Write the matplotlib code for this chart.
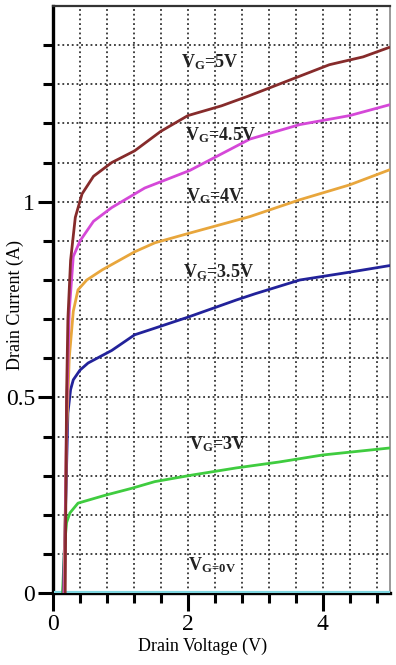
import matplotlib
matplotlib.use("Agg")
import matplotlib.pyplot as plt
import numpy as np

plt.rcParams["font.family"] = ["Liberation Serif", "DejaVu Serif"]
plt.rcParams["mathtext.fontset"] = "custom"
plt.rcParams["mathtext.rm"] = "Liberation Serif"
plt.rcParams["mathtext.bf"] = "Liberation Serif:bold"

# ------------------------
# Data
# ------------------------

v_5 = [0.18, 0.20, 0.22, 0.26, 0.33, 0.43, 0.60, 0.87, 1.21, 1.60, 2.00, 2.50, 2.90, 3.50, 4.10, 4.60, 5.00]
i_5 = [0.0, 0.50, 0.70, 0.85, 0.96, 1.02, 1.065, 1.10, 1.13, 1.18, 1.22, 1.245, 1.27, 1.31, 1.35, 1.37, 1.395]

v_45 = [0.17, 0.20, 0.24, 0.30, 0.40, 0.60, 0.87, 1.36, 2.03, 2.92, 3.66, 4.40, 5.00]
i_45 = [0.0, 0.45, 0.72, 0.86, 0.90, 0.95, 0.985, 1.035, 1.08, 1.16, 1.197, 1.22, 1.248]

v_4 = [0.16, 0.20, 0.24, 0.30, 0.37, 0.50, 0.73, 1.21, 1.51, 2.03, 2.92, 3.66, 4.40, 5.00]
i_4 = [0.0, 0.40, 0.60, 0.72, 0.775, 0.80, 0.826, 0.872, 0.895, 0.92, 0.962, 1.005, 1.043, 1.082]

v_35 = [0.15, 0.19, 0.22, 0.26, 0.30, 0.40, 0.52, 0.87, 1.21, 1.51, 2.00, 2.72, 3.00, 3.66, 4.40, 5.00]
i_35 = [0.0, 0.25, 0.46, 0.52, 0.545, 0.57, 0.588, 0.62, 0.66, 0.677, 0.705, 0.749, 0.765, 0.80, 0.82, 0.837]

v_3 = [0.14, 0.17, 0.20, 0.25, 0.37, 0.77, 1.17, 1.51, 2.07, 2.72, 3.35, 4.00, 4.50, 5.00]
i_3 = [0.0, 0.12, 0.18, 0.205, 0.23, 0.25, 0.268, 0.285, 0.302, 0.32, 0.335, 0.353, 0.362, 0.371]

v_0 = [0.02, 5.0]
i_0 = [0.0, 0.0]

curves = [
    (v_0, i_0, "#7fd6e0"),
    (v_3, i_3, "#3fcc3f"),
    (v_35, i_35, "#22229a"),
    (v_4, i_4, "#e8a63c"),
    (v_45, i_45, "#d548d8"),
    (v_5, i_5, "#862b2b"),
]

label_text = [r"$\mathbf{V_G}$=5V", r"$\mathbf{V_G}$=4.5V", r"$\mathbf{V_G}$=4V",
              r"$\mathbf{V_G}$=3.5V", r"$\mathbf{V_G}$=3V", r"$\mathbf{V_{G\!=\!0V}}$"]
label_x = [2.33, 2.48, 2.40, 2.46, 2.45, 2.36]
label_y = [1.356, 1.171, 1.013, 0.821, 0.381, 0.072]

fig = plt.figure(figsize=(3.96, 6.65), dpi=100)
ax = fig.add_axes([0.134, 0.108, 0.851, 0.883])

for v, i, c in curves:
    lw = 3.0 if c == "#7fd6e0" else 2.0
    ax.plot(v, i, color=c, lw=lw, solid_capstyle="butt", zorder=3)

for t, x, y in zip(label_text, label_x, label_y):
    ax.text(x, y, t, fontsize=13, fontweight="bold", ha="center", va="center",
            color="#222222", zorder=4)

ax.set_xlim(0, 5)
ax.set_ylim(0, 1.5)

# grid every 0.4 V and 0.1 A
for gx in np.arange(0.4, 5.0, 0.4):
    ax.axvline(gx, color="#333333", lw=1.3, ls=(0, (1, 1.6)), zorder=1)
for gy in np.arange(0.1, 1.5, 0.1):
    ax.axhline(gy, color="#333333", lw=1.3, ls=(0, (1, 1.6)), zorder=1)

ax.set_xticks([0, 2, 4])
ax.set_xticks(np.arange(0.4, 5.0, 0.4), minor=True)
ax.set_yticks([0, 0.5, 1])
ax.set_yticklabels(["0", "0.5", "1"])
ax.set_yticks(np.arange(0.1, 1.5, 0.1), minor=True)

ax.tick_params(axis="both", which="major", labelsize=17, width=2.2, direction="out", color="black")
ax.tick_params(axis="x", which="major", length=13, pad=2)
ax.tick_params(axis="y", which="major", length=11, pad=2)
ax.tick_params(axis="both", which="minor", length=7, width=2.2, direction="out")

ax.spines["left"].set_linewidth(2.4)
ax.spines["bottom"].set_linewidth(2.4)
ax.spines["top"].set_linewidth(1.6)
ax.spines["top"].set_color("#333333")
ax.spines["right"].set_linewidth(1.2)
ax.spines["right"].set_color("#888888")

ax.set_xlabel("Drain Voltage (V)", fontsize=13)
ax.set_ylabel("Drain Current (A)", fontsize=13)
ax.xaxis.set_label_coords(0.445, -0.075)
ax.yaxis.set_label_coords(-0.085, 0.49)

fig.savefig("out.png", dpi=100)
plt.close()
